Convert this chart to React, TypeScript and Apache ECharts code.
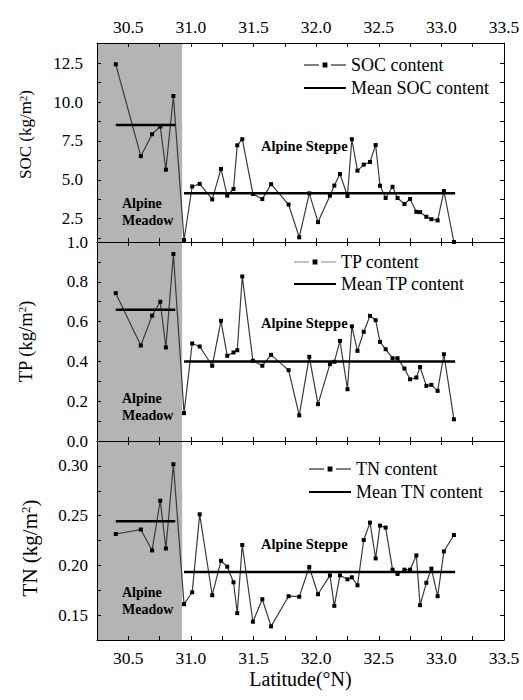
import React, { useEffect, useRef } from "react";
import * as echarts from "echarts";

const latitudes = [30.40, 30.60, 30.69, 30.755, 30.80, 30.86, 30.945, 31.01, 31.07, 31.17, 31.24, 31.29, 31.34, 31.37, 31.41, 31.495, 31.57, 31.64, 31.78, 31.865, 31.945, 32.015, 32.11, 32.145, 32.19, 32.25, 32.285, 32.33, 32.38, 32.43, 32.475, 32.51, 32.555, 32.61, 32.65, 32.705, 32.75, 32.80, 32.83, 32.88, 32.92, 32.97, 33.02, 33.10];
const socValues = [12.43, 6.52, 7.93, 8.43, 5.65, 10.39, 1.13, 4.57, 4.74, 3.74, 5.70, 3.98, 4.41, 7.22, 7.61, 4.09, 3.76, 4.72, 3.41, 1.30, 4.13, 2.28, 3.98, 4.63, 5.37, 3.96, 7.61, 5.59, 5.98, 6.15, 7.24, 4.62, 3.83, 4.55, 3.83, 3.44, 3.77, 2.94, 2.92, 2.62, 2.47, 2.39, 4.28, 1.0];
const tpValues = [0.743, 0.48, 0.63, 0.70, 0.47, 0.94, 0.14, 0.49, 0.475, 0.378, 0.604, 0.428, 0.445, 0.456, 0.827, 0.403, 0.378, 0.433, 0.356, 0.129, 0.423, 0.185, 0.386, 0.398, 0.503, 0.26, 0.576, 0.453, 0.549, 0.629, 0.607, 0.498, 0.461, 0.416, 0.416, 0.364, 0.31, 0.319, 0.372, 0.277, 0.282, 0.252, 0.436, 0.109];
const tnValues = [0.2315, 0.236, 0.215, 0.265, 0.217, 0.3017, 0.161, 0.173, 0.2513, 0.170, 0.2046, 0.1987, 0.183, 0.152, 0.2205, 0.1434, 0.166, 0.1387, 0.169, 0.1685, 0.1983, 0.171, 0.19, 0.1593, 0.19, 0.186, 0.188, 0.180, 0.2255, 0.243, 0.207, 0.240, 0.238, 0.1957, 0.1914, 0.1957, 0.1957, 0.21, 0.16, 0.1825, 0.1967, 0.169, 0.214, 0.2305];

const meadowMeanLat = [30.40, 30.875];
const steppeMeanLat = [30.945, 33.11];
const socMeans = [8.52, 4.13];
const tpMeans = [0.66, 0.40];
const tnMeans = [0.2444, 0.1934];
const meadowSpan = [30.25, 30.93];

const xLabels = [30.5, 31.0, 31.5, 32.0, 32.5, 33.0, 33.5];
const xTicks = [30.5, 30.75, 31.0, 31.25, 31.5, 31.75, 32.0, 32.25, 32.5, 32.75, 33.0, 33.25];
const socLabels = [2.5, 5.0, 7.5, 10.0, 12.5];
const socTicks = [1.25, 2.5, 3.75, 5.0, 6.25, 7.5, 8.75, 10.0, 11.25, 12.5];
const tpLabels = [0.0, 0.2, 0.4, 0.6, 0.8, 1.0];
const tpTicks = [0.1, 0.2, 0.3, 0.4, 0.5, 0.6, 0.7, 0.8, 0.9];
const tnLabels = [0.15, 0.20, 0.25, 0.30];
const tnTicks = [0.15, 0.175, 0.2, 0.225, 0.25, 0.275, 0.3];

const FONT = "Liberation Serif";

const panels = [
  {
    name: "{pre|\u00a0}SOC (kg/m{sup|2})", values: socValues, means: socMeans, min: 1.0, max: 13.8,
    labels: socLabels, ticks: socTicks, decimals: 1, labelMargin: 14, nameSize: 17, nameGap: 63, pre: 16, post: 0,
    series: "SOC content", mean: "Mean SOC content", legendLeft: 303, legendTop: 56, legendGap: 5, dash: "#000",
    top: 43, steppeY: 146, meadowY: 211.5,
  },
  {
    name: "TP (kg/m{sup|2})", values: tpValues, means: tpMeans, min: 0, max: 1.0,
    labels: tpLabels, ticks: tpTicks, decimals: 1, labelMargin: 9, nameSize: 18.5, nameGap: 62, pre: 0, post: 0,
    series: "TP content", mean: "Mean TP content", legendLeft: 293, legendTop: 253, legendGap: 4, dash: "#888",
    top: 242, steppeY: 323, meadowY: 406.5,
  },
  {
    name: "TN (kg/m{sup|2}){post|\u00a0}", values: tnValues, means: tnMeans, min: 0.125, max: 0.325,
    labels: tnLabels, ticks: tnTicks, decimals: 2, labelMargin: 9, nameSize: 21, nameGap: 57, pre: 0, post: 15,
    series: "TN content", mean: "Mean TN content", legendLeft: 308, legendTop: 460, legendGap: 5, dash: "#000",
    top: 441, steppeY: 544, meadowY: 601,
  },
];

function buildOption() {
  const grid: any[] = [];
  const xAxis: any[] = [];
  const yAxis: any[] = [];
  const series: any[] = [];
  const legend: any[] = [];
  const graphic: any[] = [];

  panels.forEach((p, g) => {
    grid.push({ left: 97, right: 19, top: p.top, height: 199, containLabel: false });
    const axisLine = { show: true, onZero: false, lineStyle: { color: "#000", width: 1 } };
    const tickStyle = { color: "#000", width: 1 };
    ["bottom", "top"].forEach((pos) => {
      const showLabel = (pos === "bottom" && g === 2) || (pos === "top" && g === 0);
      xAxis.push({
        type: "value", gridIndex: g, position: pos, min: 30.25, max: 33.5, z: 5,
        axisLine,
        axisTick: { show: true, inside: true, length: 4, customValues: xTicks, lineStyle: tickStyle },
        axisLabel: {
          show: showLabel, customValues: xLabels, formatter: (v: number) => v.toFixed(1),
          fontFamily: FONT, fontSize: 17.5, color: "#000", margin: pos === "top" ? 7 : 9,
        },
        splitLine: { show: false },
        name: pos === "bottom" && g === 2 ? "Latitude(°N)" : "",
        nameLocation: "middle", nameGap: 29,
        nameTextStyle: { fontFamily: FONT, fontSize: 20, color: "#000" },
      });
    });
    ["left", "right"].forEach((pos) => {
      yAxis.push({
        type: "value", gridIndex: g, position: pos, min: p.min, max: p.max, z: 5,
        axisLine,
        axisTick: { show: true, inside: true, length: 4, customValues: p.ticks, lineStyle: tickStyle },
        axisLabel: {
          show: pos === "left", customValues: p.labels, formatter: (v: number) => v.toFixed(p.decimals),
          fontFamily: FONT, fontSize: 17, color: "#000", margin: p.labelMargin,
        },
        splitLine: { show: false },
        name: pos === "left" ? p.name : "",
        nameLocation: "middle", nameGap: p.nameGap,
        nameTextStyle: {
          fontFamily: FONT, fontSize: p.nameSize, color: "#000",
          rich: {
            sup: { fontFamily: FONT, fontSize: Math.round(p.nameSize * 0.62), verticalAlign: "top", color: "#000" },
            pre: { fontFamily: FONT, fontSize: p.nameSize, width: p.pre, color: "#000" },
            post: { fontFamily: FONT, fontSize: p.nameSize, width: p.post, color: "#000" },
          },
        },
      });
    });

    series.push({
      type: "line", name: p.series, xAxisIndex: 2 * g, yAxisIndex: 2 * g,
      data: latitudes.map((x, i) => [x, p.values[i]]),
      symbol: "rect", symbolSize: 4, showSymbol: true,
      itemStyle: { color: "#000" },
      lineStyle: { color: "#3a3a3a", width: 1.2 },
      z: 3,
      markArea: {
        silent: true,
        itemStyle: { color: "#b4b4b4", opacity: 1 },
        data: [[{ xAxis: meadowSpan[0] }, { xAxis: meadowSpan[1] }]],
      },
    });
    series.push({
      type: "line", name: p.mean, xAxisIndex: 2 * g, yAxisIndex: 2 * g,
      data: meadowMeanLat.map((x) => [x, p.means[0]]),
      symbol: "none", lineStyle: { color: "#000", width: 2.5 }, itemStyle: { color: "#000" }, z: 4,
    });
    series.push({
      type: "line", name: p.mean, xAxisIndex: 2 * g, yAxisIndex: 2 * g,
      data: steppeMeanLat.map((x) => [x, p.means[1]]),
      symbol: "none", lineStyle: { color: "#000", width: 2.5 }, itemStyle: { color: "#000" }, z: 4,
    });

    legend.push({
      orient: "vertical", left: p.legendLeft, top: p.legendTop, itemWidth: 42, itemHeight: 6,
      itemGap: p.legendGap, selectedMode: false, padding: 0,
      textStyle: { fontFamily: FONT, fontSize: 18, color: "#000" },
      data: [
        { name: p.series, lineStyle: { color: p.dash, type: [15, 12], width: 1.2 } },
        { name: p.mean, itemStyle: { opacity: 0 } },
      ],
    });

    graphic.push({
      type: "text", x: 261, y: p.steppeY, z: 20,
      style: { text: "Alpine Steppe", font: `bold 14.5px ${FONT}`, fill: "#000", textAlign: "left", textVerticalAlign: "middle" },
    });
    graphic.push({
      type: "text", x: 122, y: p.meadowY, z: 20,
      style: { text: "Alpine\nMeadow", font: `bold 14px ${FONT}`, fill: "#000", textAlign: "left", textVerticalAlign: "middle", lineHeight: 17 },
    });
  });

  return {
    animation: false, backgroundColor: "#fff",
    textStyle: { fontFamily: FONT, color: "#000" },
    grid, xAxis, yAxis, series, legend, graphic,
  };
}

export default function App() {
  const ref = useRef<HTMLDivElement>(null);
  useEffect(() => {
    if (!ref.current) return;
    const chart = echarts.init(ref.current, undefined, { renderer: "svg" });
    chart.setOption(buildOption() as any);
    return () => chart.dispose();
  }, []);
  return (
    <div
      ref={ref}
      style={{ position: "fixed", left: 0, top: 0, width: 523, height: 700, background: "#fff" }}
    />
  );
}
